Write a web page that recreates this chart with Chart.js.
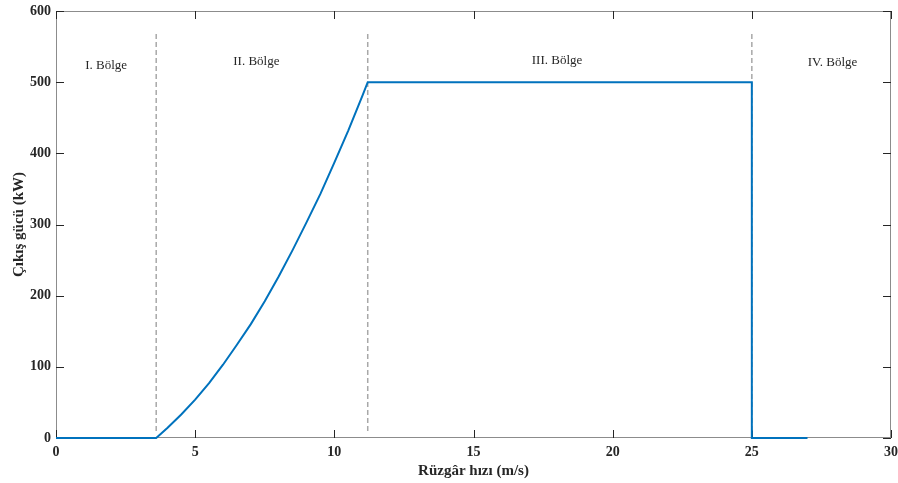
<!DOCTYPE html>
<html>
<head>
<meta charset="utf-8">
<script src="https://cdn.jsdelivr.net/npm/chart.js@4.4.1/dist/chart.umd.min.js"></script>
<style>
  html, body { margin: 0; padding: 0; background: #ffffff; }
  #wrap { width: 898px; height: 483px; }
</style>
</head>
<body>
<div id="wrap"><canvas id="c" width="898" height="483"></canvas></div>
<script>
// ---- Data ----
const windSpeed = [0, 3.6, 4, 4.5, 5, 5.5, 6, 6.5, 7, 7.5, 8, 8.5, 9, 9.5, 10, 10.5, 11, 11.2, 25, 25, 27];
const outputPower = [0, 0, 14, 33, 54, 77, 103, 131, 160, 192, 227, 264, 303, 343, 387, 432, 480, 500, 500, 0, 0];

const regionBoundaries = [3.6, 11.2, 25];
const boundaryRange = [10, 570];

const regionLabels = ['I. Bölge', 'II. Bölge', 'III. Bölge', 'IV. Bölge'];
const regionLabelX = [1.8, 7.2, 18.0, 27.9];
const regionLabelY = [524, 529, 531, 527];

const xTicks = [0, 5, 10, 15, 20, 25, 30];
const yTicks = [0, 100, 200, 300, 400, 500, 600];

const xTitle = 'Rüzgâr hızı (m/s)';
const yTitle = 'Çıkış gücü (kW)';

// ---- Build datasets ----
const mainData = windSpeed.map((v, i) => ({ x: v, y: outputPower[i] }));
const datasets = [{
  data: mainData,
  borderColor: '#0072BD',
  borderWidth: 2,
  pointRadius: 0,
  tension: 0,
  fill: false,
  clip: false
}];
regionBoundaries.forEach(b => {
  datasets.push({
    data: [{ x: b, y: boundaryRange[0] }, { x: b, y: boundaryRange[1] }],
    borderColor: '#a8a8a8',
    borderWidth: 1.5,
    borderDash: [5, 3],
    pointRadius: 0,
    fill: false
  });
});

const serif = '"Liberation Serif", "DejaVu Serif", serif';

const framePlugin = {
  id: 'frame',
  beforeDatasetsDraw(chart) {
    const { ctx, chartArea: a, scales } = chart;
    ctx.save();
    ctx.strokeStyle = '#8c8c8c';
    ctx.lineWidth = 1;
    ctx.strokeRect(a.left + 0.5, a.top + 0.5, a.right - a.left - 1, a.bottom - a.top - 1);
    ctx.strokeStyle = '#262626';
    const L = 8;
    ctx.beginPath();
    xTicks.forEach(t => {
      const px = Math.round(scales.x.getPixelForValue(t)) + 0.5;
      ctx.moveTo(px, a.bottom); ctx.lineTo(px, a.bottom - L);
      ctx.moveTo(px, a.top); ctx.lineTo(px, a.top + L);
    });
    yTicks.forEach(t => {
      const py = Math.round(scales.y.getPixelForValue(t)) + 0.5;
      ctx.moveTo(a.left, py); ctx.lineTo(a.left + L, py);
      ctx.moveTo(a.right, py); ctx.lineTo(a.right - L, py);
    });
    ctx.stroke();
    ctx.restore();
  },
  afterDatasetsDraw(chart) {
    const { ctx, scales } = chart;
    ctx.save();
    ctx.fillStyle = '#262626';
    ctx.font = '13px ' + serif;
    ctx.textAlign = 'center';
    ctx.textBaseline = 'middle';
    regionLabels.forEach((s, i) => {
      ctx.fillText(s, scales.x.getPixelForValue(regionLabelX[i]), scales.y.getPixelForValue(regionLabelY[i]));
    });
    ctx.restore();
  }
};

new Chart(document.getElementById('c'), {
  type: 'line',
  data: { datasets },
  options: {
    responsive: false,
    animation: false,
    events: [],
    layout: { padding: { top: 11, right: 7, left: 0, bottom: 0 } },
    plugins: { legend: { display: false }, tooltip: { enabled: false } },
    scales: {
      x: {
        type: 'linear',
        min: 0, max: 30,
        afterBuildTicks: s => { s.ticks = xTicks.map(v => ({ value: v })); },
        afterFit: s => { s.height = 45; s.paddingLeft = 0; s.paddingRight = 0; },
        grid: { display: false, drawTicks: false },
        border: { display: false },
        ticks: { color: '#262626', padding: 6, font: { family: serif, size: 14, weight: 'bold' } },
        title: { display: true, text: xTitle, color: '#262626', padding: { top: 0, bottom: 3 }, font: { family: serif, size: 15, weight: 'bold' } }
      },
      y: {
        type: 'linear',
        min: 0, max: 600,
        afterBuildTicks: s => { s.ticks = yTicks.map(v => ({ value: v })); },
        afterFit: s => { s.width = 56; s.paddingTop = 0; s.paddingBottom = 0; },
        grid: { display: false, drawTicks: false },
        border: { display: false },
        ticks: { color: '#262626', padding: 5, font: { family: serif, size: 14, weight: 'bold' } },
        title: { display: true, text: yTitle, color: '#262626', padding: { top: 10, bottom: 0 }, font: { family: serif, size: 15, weight: 'bold' } }
      }
    }
  },
  plugins: [framePlugin]
});
</script>
</body>
</html>
